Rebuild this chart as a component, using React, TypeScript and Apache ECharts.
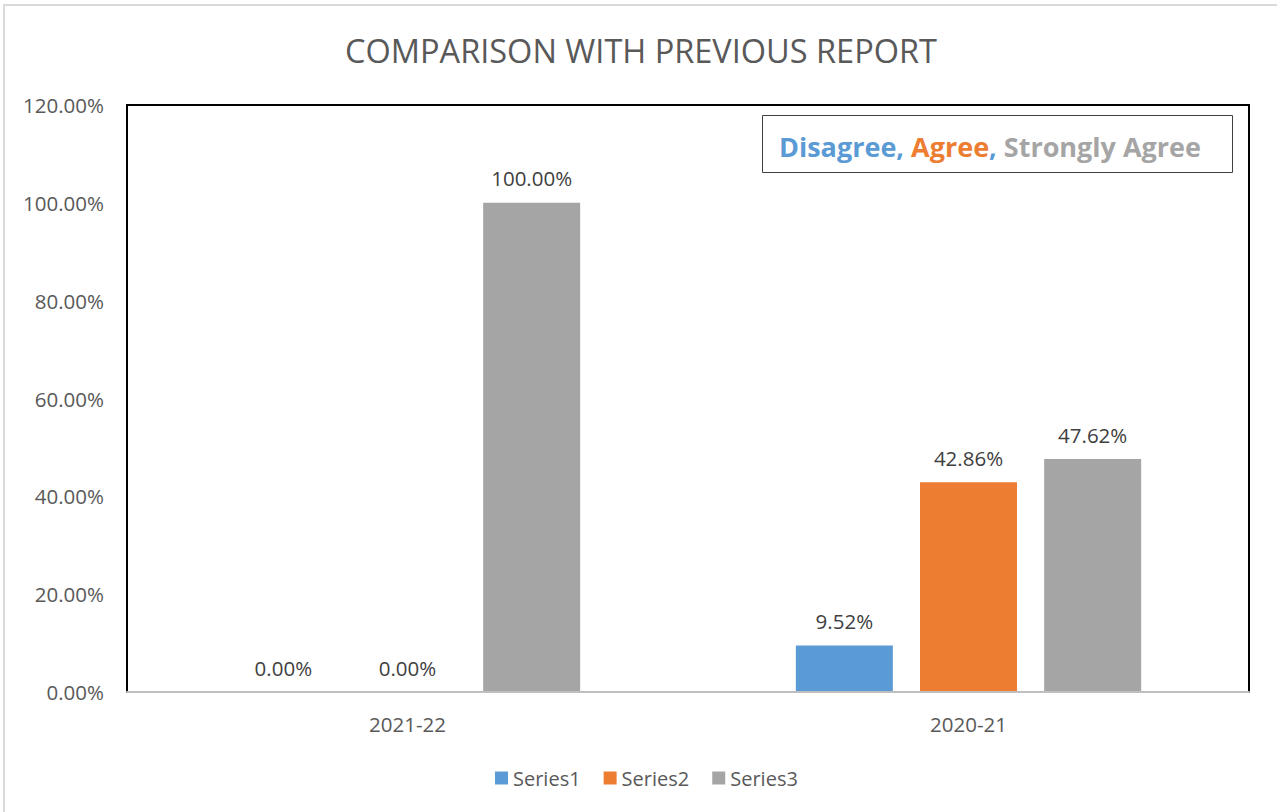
import React, { useEffect, useRef } from "react";
import * as echarts from "echarts";

const categories = ["2021-22", "2020-21"];
const seriesNames = ["Series1", "Series2", "Series3"];
const series1 = [0, 0.0952];
const series2 = [0, 0.4286];
const series3 = [1.0, 0.4762];
const yTicks = { min: 0, max: 1.2, interval: 0.2 };
const colors = ["#5B9BD5", "#ED7D31", "#A5A5A5"];
const titleText = "COMPARISON WITH PREVIOUS REPORT";

const FONT = "'Open Sans', 'Noto Sans', sans-serif";
const pct = (v: number) => (v * 100).toFixed(2) + "%";

export default function App() {
  const ref = useRef<HTMLDivElement>(null);
  useEffect(() => {
    if (!ref.current) return;
    const chart = echarts.init(ref.current, null, { renderer: "svg" });
    const values = [series1, series2, series3];
    chart.setOption({
      animation: false,
      backgroundColor: "#ffffff",
      textStyle: { fontFamily: FONT },
      grid: {
        left: 127,
        top: 105,
        width: 1122,
        height: 587,
        show: true,
        borderColor: "#000000",
        borderWidth: 2,
        backgroundColor: "transparent",
      },
      legend: {
        left: 490,
        top: 763,
        icon: "rect",
        itemWidth: 13,
        itemHeight: 13,
        itemGap: 23,
        data: seriesNames,
        textStyle: { fontFamily: FONT, fontSize: 20, color: "#595959" },
      },
      xAxis: {
        type: "category",
        data: categories,
        z: 5,
        axisLine: { show: true, lineStyle: { color: "#BFBFBF", width: 2 } },
        axisTick: { show: false },
        axisLabel: { fontFamily: FONT, fontSize: 20.5, color: "#595959", margin: 21 },
      },
      yAxis: {
        type: "value",
        min: yTicks.min,
        max: yTicks.max,
        interval: yTicks.interval,
        axisLine: { show: false },
        axisTick: { show: false },
        splitLine: { show: false },
        axisLabel: {
          fontFamily: FONT,
          fontSize: 20.5,
          color: "#595959",
          margin: 23,
          formatter: (v: number) => pct(v),
        },
      },
      series: seriesNames.map((name, i) => ({
        name,
        type: "bar",
        data: values[i],
        barWidth: 97,
        barGap: "28%",
        itemStyle: { color: colors[i] },
        label: {
          show: true,
          position: "top",
          distance: 14,
          fontFamily: FONT,
          fontSize: 20.5,
          color: "#404040",
          formatter: (p: any) => pct(p.value),
        },
      })),
      graphic: [
        {
          type: "rect",
          z: -10,
          silent: true,
          shape: { x: 4, y: 5, width: 1300, height: 830 },
          style: { fill: "none", stroke: "#D9D9D9", lineWidth: 2 },
        },
        {
          type: "text",
          x: 641,
          y: 50,
          style: {
            text: titleText,
            fontFamily: FONT,
            fontSize: 32.5,
            fill: "#595959",
            textAlign: "center",
            textVerticalAlign: "middle",
          },
        },
        {
          type: "rect",
          shape: { x: 762.5, y: 115.5, width: 470, height: 57 },
          style: { fill: "#ffffff", stroke: "#404040", lineWidth: 1 },
          z: 10,
        },
        {
          type: "text",
          x: 990,
          y: 146,
          z: 11,
          style: {
            text: "{a|Disagree, }{b|Agree}{a|, }{c|Strongly Agree}",
            textAlign: "center",
            textVerticalAlign: "middle",
            fontFamily: FONT,
            fontSize: 27,
            fontWeight: "bold",
            rich: {
              a: { fill: colors[0], fontFamily: FONT, fontSize: 27, fontWeight: "bold" },
              b: { fill: colors[1], fontFamily: FONT, fontSize: 27, fontWeight: "bold" },
              c: { fill: colors[2], fontFamily: FONT, fontSize: 27, fontWeight: "bold" },
            },
          },
        },
      ],
    });
    return () => chart.dispose();
  }, []);
  return (
    <div
      ref={ref}
      style={{ position: "absolute", left: 0, top: 0, width: 1277, height: 812 }}
    />
  );
}
